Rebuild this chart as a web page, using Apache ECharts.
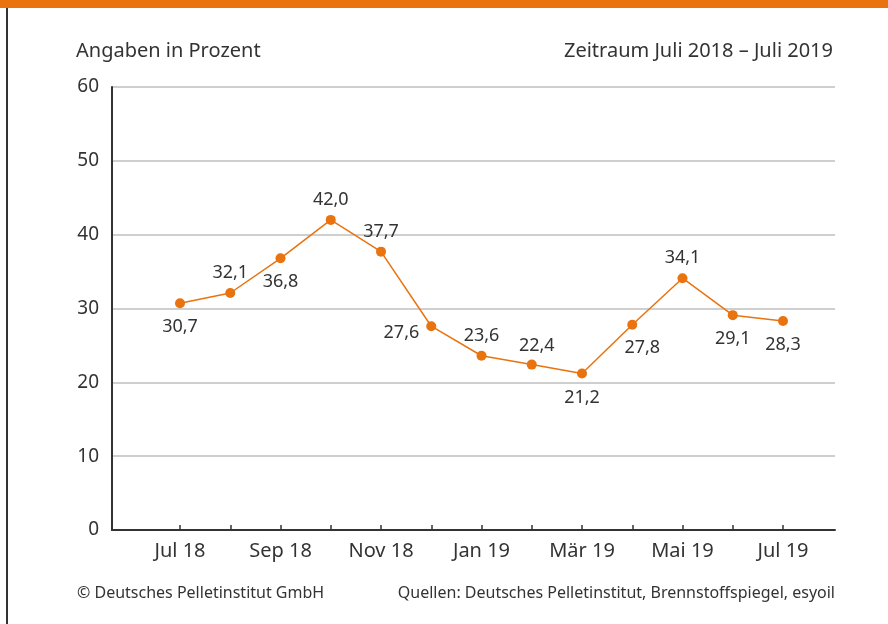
<!DOCTYPE html>
<html>
<head>
<meta charset="utf-8">
<script src="https://cdn.jsdelivr.net/npm/echarts@6/dist/echarts.min.js"></script>
<style>
  html, body { margin: 0; padding: 0; background: #fff; }
  #chart { width: 888px; height: 624px; }
</style>
</head>
<body>
<div id="chart"></div>
<script>
// Monate Juli 2018 bis Juli 2019
const months = ['Jul 18', 'Aug 18', 'Sep 18', 'Okt 18', 'Nov 18', 'Dez 18',
  'Jan 19', 'Feb 19', 'Mär 19', 'Apr 19', 'Mai 19', 'Jun 19', 'Jul 19'];
// Werte in Prozent
const values = [30.7, 32.1, 36.8, 42.0, 37.7, 27.6, 23.6, 22.4, 21.2, 27.8, 34.1, 29.1, 28.3];
const yTicks = [0, 10, 20, 30, 40, 50, 60];

// wo die Beschriftung am Punkt steht (oben / unten / links)
const labelSide = ['below', 'above', 'below', 'above', 'above', 'left',
  'above', 'aboveRight', 'below', 'belowRight', 'above', 'below', 'below'];

const FONT = '"Noto Sans", sans-serif';
const TEXT = '#333';
const ORANGE = '#e8730f';

const chart = echarts.init(document.getElementById('chart'));

function fmt(v) {
  return v.toFixed(1).replace('.', ',');
}

const labelStyle = {
  above: { position: 'top', distance: 6 },
  aboveRight: { position: 'top', distance: 5, offset: [5, 0] },
  below: { position: 'bottom', distance: 10 },
  belowRight: { position: 'bottom', distance: 9, offset: [10, 0] },
  left: { position: 'left', distance: 7, offset: [0, 7] }
};

const seriesData = values.map(function (v, i) {
  const s = labelStyle[labelSide[i]];
  return {
    value: v,
    label: { position: s.position, distance: s.distance, offset: s.offset || [0, 0] }
  };
});

const titleText = { fontFamily: FONT, fontSize: 20, fontWeight: 'normal', color: TEXT };
const footText = { fontFamily: FONT, fontSize: 16, fontWeight: 'normal', color: TEXT };

const option = {
  animation: false,
  backgroundColor: '#fff',
  textStyle: { fontFamily: FONT },
  title: [
    { text: 'Angaben in Prozent', left: 76, top: 41, padding: 0, textStyle: titleText },
    { text: 'Zeitraum Juli 2018 – Juli 2019', right: 55, top: 41, padding: 0, textStyle: titleText },
    { text: '© Deutsches Pelletinstitut GmbH', left: 77, top: 585, padding: 0, textStyle: footText },
    { text: 'Quellen: Deutsches Pelletinstitut, Brennstoffspiegel, esyoil', right: 53, top: 585, padding: 0, textStyle: footText }
  ],
  graphic: [
    // oranger Balken oben
    { type: 'rect', left: 0, top: 0, shape: { width: 888, height: 8 }, style: { fill: ORANGE } },
    // Rahmenlinie links
    { type: 'line', shape: { x1: 7, y1: 8, x2: 7, y2: 624 }, style: { stroke: '#333', lineWidth: 2 } }
  ],
  grid: [
    { left: 112, right: 53, top: 87, bottom: 94 },
    { left: 180, right: 105, top: 87, bottom: 94 }
  ],
  xAxis: [
    {
      gridIndex: 0, type: 'value', min: 0, max: 1,
      axisLine: { show: true, lineStyle: { color: '#333', width: 2 } },
      axisTick: { show: false }, axisLabel: { show: false }, splitLine: { show: false }
    },
    {
      gridIndex: 1, type: 'category', data: months, boundaryGap: false,
      axisLine: { show: false },
      axisTick: { show: true, inside: true, length: 5, interval: 0, lineStyle: { color: '#333', width: 1.5 } },
      axisLabel: { interval: 1, color: TEXT, fontSize: 20, fontFamily: FONT, margin: 11 },
      splitLine: { show: false }
    }
  ],
  yAxis: [
    {
      gridIndex: 0, type: 'value', min: yTicks[0], max: yTicks[yTicks.length - 1], interval: 10,
      axisLine: { show: true, lineStyle: { color: '#333', width: 2 } },
      axisTick: { show: false },
      axisLabel: { color: TEXT, fontSize: 19, fontFamily: FONT, margin: 13 },
      splitLine: { show: true, lineStyle: { color: '#cfcfcf', width: 2 } }
    },
    {
      gridIndex: 1, type: 'value', min: yTicks[0], max: yTicks[yTicks.length - 1],
      show: false
    }
  ],
  series: [
    {
      type: 'line',
      xAxisIndex: 1,
      yAxisIndex: 1,
      data: seriesData,
      symbol: 'circle',
      symbolSize: 10,
      lineStyle: { color: ORANGE, width: 1.5 },
      itemStyle: { color: ORANGE },
      label: {
        show: true,
        color: TEXT,
        fontSize: 18,
        fontFamily: FONT,
        formatter: function (p) { return fmt(p.value); }
      }
    }
  ]
};

chart.setOption(option);
</script>
</body>
</html>
